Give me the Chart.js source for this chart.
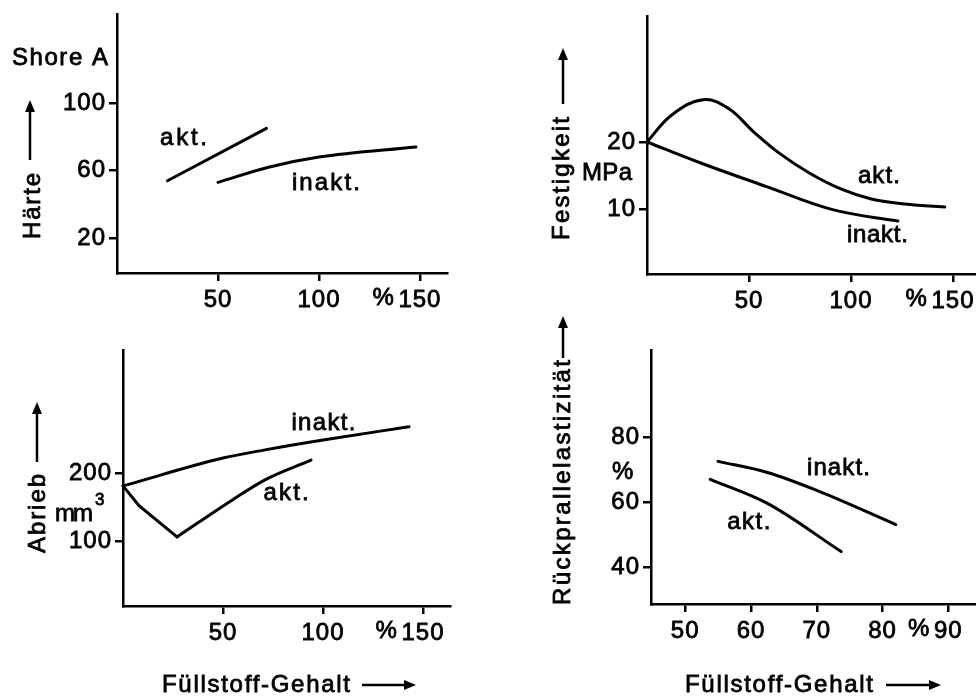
<!DOCTYPE html>
<html>
<head>
<meta charset="utf-8">
<script src="https://cdn.jsdelivr.net/npm/chart.js@4.4.1/dist/chart.umd.min.js"></script>
<style>
  body { margin: 0; background: #fff; }
  canvas { position: absolute; left: 0; top: 0; }
</style>
</head>
<body>
<canvas id="haerte" width="976" height="698"></canvas>
<canvas id="festigkeit" width="976" height="698"></canvas>
<canvas id="abrieb" width="976" height="698"></canvas>
<canvas id="rueckprall" width="976" height="698"></canvas>
<script>
// Härte, Shore A
const haerteAktX = [25, 74];
const haerteAktY = [54, 85];
const haerteInaktX = [50, 75, 100, 148];
const haerteInaktY = [53, 62, 68, 74];
const haerteXTicks = [50, 100, 150];
const haerteYTicks = [20, 60, 100];

// Festigkeit, MPa
const festAktX = [0, 12, 27.5, 40, 52, 65, 80, 95, 110, 125, 146];
const festAktY = [20, 24, 26.3, 25, 21.6, 18.3, 15.3, 13, 11.5, 10.8, 10.3];
const festInaktX = [0, 26, 59, 91, 123];
const festInaktY = [20, 16.9, 13.3, 9.9, 8.2];
const festXTicks = [50, 100, 150];
const festYTicks = [10, 20];

// Abrieb, mm3
const abriebAktX = [0, 8, 27, 54.5, 71, 94];
const abriebAktY = [181, 152, 106, 160, 190, 219];
const abriebInaktX = [0, 50, 71, 100, 143];
const abriebInaktY = [181, 222, 234, 248.5, 268];
const abriebXTicks = [50, 100, 150];
const abriebYTicks = [100, 200];

// Rückprallelastizität, %
const rueckAktX = [53.8, 62.5, 73.7];
const rueckAktY = [67.1, 59.7, 44.9];
const rueckInaktX = [55, 62.5, 70, 82];
const rueckInaktY = [72.6, 69.2, 63.7, 53.2];
const rueckXTicks = [50, 60, 70, 80, 90];
const rueckYTicks = [40, 60, 80];

const FONT = '"Liberation Sans", Arial, sans-serif';
const SIZE = 24;
const INK = 0.8;
Chart.defaults.font.family = FONT;
Chart.defaults.font.size = SIZE;
Chart.defaults.color = '#000';

function pts(xs, ys) {
  return xs.map((x, i) => ({ x: x, y: ys[i] }));
}

// draw text stretched to a given width (wide lettering of the original)
function fitText(ctx, text, x, cy, width) {
  ctx.letterSpacing = '0px';
  const w = ctx.measureText(text).width;
  const n = [...text].length;
  ctx.letterSpacing = (n > 1 ? (width - w) / (n - 1) : 0) + 'px';
  ctx.textAlign = 'left';
  ctx.textBaseline = 'middle';
  ctx.lineWidth = INK;
  ctx.fillText(text, x, cy);
  ctx.strokeText(text, x, cy);
  ctx.letterSpacing = '0px';
}

function vText(ctx, text, cx, yTop, yBottom) {
  ctx.save();
  ctx.translate(cx, (yTop + yBottom) / 2);
  ctx.rotate(-Math.PI / 2);
  fitText(ctx, text, -(yBottom - yTop) / 2, 0, yBottom - yTop);
  ctx.restore();
}

function arrow(ctx, x1, y1, x2, y2) {
  const a = Math.atan2(y2 - y1, x2 - x1);
  const L = 12, W = 5;
  ctx.lineWidth = 2.5;
  ctx.beginPath();
  ctx.moveTo(x1, y1);
  ctx.lineTo(x2 - L * 0.7 * Math.cos(a), y2 - L * 0.7 * Math.sin(a));
  ctx.stroke();
  ctx.beginPath();
  ctx.moveTo(x2, y2);
  ctx.lineTo(x2 - L * Math.cos(a) + W * Math.sin(a), y2 - L * Math.sin(a) - W * Math.cos(a));
  ctx.lineTo(x2 - L * Math.cos(a) - W * Math.sin(a), y2 - L * Math.sin(a) + W * Math.cos(a));
  ctx.closePath();
  ctx.fill();
}

function line(data, mode) {
  return {
    data: data,
    borderColor: '#000',
    borderWidth: 3,
    pointRadius: 0,
    fill: false,
    tension: mode === 'straight' ? 0 : 0.4,
    cubicInterpolationMode: mode === 'monotone' ? 'monotone' : 'default',
    borderCapStyle: 'round',
    clip: false
  };
}

function makePanel(id, box, xr, yr, xTicks, yTicks, datasets, labels, decorate) {
  const axisStyle = { color: '#000', width: 2.5 };
  const tickFont = { padding: 0, textStrokeColor: '#000', textStrokeWidth: INK };
  const deco = {
    id: 'deco',
    beforeDraw(chart) { chart.ctx.letterSpacing = '1px'; },
    afterDraw(chart) {
      const ctx = chart.ctx;
      ctx.save();
      ctx.fillStyle = '#000';
      ctx.strokeStyle = '#000';
      ctx.font = SIZE + 'px ' + FONT;
      // curve labels placed in data coordinates
      labels.forEach(l => {
        const px = chart.scales.x.getPixelForValue(l.x);
        const py = chart.scales.y.getPixelForValue(l.y);
        fitText(ctx, l.text, px, py, l.w);
      });
      // "%" in front of the last x tick label
      const last = xTicks[xTicks.length - 1];
      ctx.letterSpacing = '1px';
      const lw = ctx.measureText(String(last)).width;
      ctx.letterSpacing = '0px';
      const lx = chart.scales.x.getPixelForValue(last);
      fitText(ctx, '%', lx - lw / 2 - 26, box.b + 25, 18);
      decorate(ctx, chart);
      ctx.restore();
    }
  };
  return new Chart(document.getElementById(id), {
    type: 'line',
    data: { datasets: datasets },
    options: {
      responsive: false,
      animation: false,
      devicePixelRatio: 1,
      events: [],
      layout: { padding: { left: 0, top: box.t, right: 976 - box.r, bottom: 0 } },
      plugins: { legend: { display: false }, tooltip: { enabled: false } },
      scales: {
        x: {
          type: 'linear', min: xr[0], max: xr[1],
          afterBuildTicks: s => { s.ticks = xTicks.map(v => ({ value: v })); },
          afterFit: s => {
            s.height = 698 - box.b;
            s.paddingLeft = s.paddingRight = 0;
          },
          grid: { drawOnChartArea: false, tickLength: 8, lineWidth: 2.5, color: '#000' },
          border: axisStyle,
          ticks: Object.assign({}, tickFont, { padding: 5, maxRotation: 0, autoSkip: false, callback: v => String(v) })
        },
        y: {
          type: 'linear', min: yr[0], max: yr[1],
          afterBuildTicks: s => { s.ticks = yTicks.map(v => ({ value: v })); },
          afterFit: s => {
            s.width = box.l;
            s.paddingTop = s.paddingBottom = 0;
          },
          grid: { drawOnChartArea: false, tickLength: 8, lineWidth: 2.5, color: '#000' },
          border: axisStyle,
          ticks: Object.assign({}, tickFont, { padding: 3, autoSkip: false, callback: v => String(v) })
        }
      }
    },
    plugins: [deco]
  });
}

// top left: Härte
makePanel('haerte', { l: 117, t: 14, r: 447, b: 273 }, [0, 163.4], [-0.7, 152.8],
  haerteXTicks, haerteYTicks,
  [line(pts(haerteAktX, haerteAktY), 'straight'), line(pts(haerteInaktX, haerteInaktY), 'monotone')],
  [{ text: 'akt.', x: 21.3, y: 79.3, w: 47 }, { text: 'inakt.', x: 86.6, y: 52.6, w: 68 }],
  (ctx) => {
    fitText(ctx, 'Shore A', 12, 58, 96);
    vText(ctx, 'Härte', 33, 173, 239);
    arrow(ctx, 30, 160, 30, 100);
  });

// top right: Festigkeit
makePanel('festigkeit', { l: 647, t: 16, r: 976, b: 274 }, [0, 161.3], [0.3, 38.8],
  festXTicks, festYTicks,
  [line(pts(festAktX, festAktY), 'smooth'), line(pts(festInaktX, festInaktY), 'smooth')],
  [{ text: 'akt.', x: 103.4, y: 14.8, w: 42 }, { text: 'inakt.', x: 98, y: 6.1, w: 61 }],
  (ctx) => {
    vText(ctx, 'Festigkeit', 562, 117, 240);
    arrow(ctx, 563, 104, 563, 48);
    fitText(ctx, 'MPa', 582, 173, 50);
  });

// bottom left: Abrieb
const abriebAkt = pts(abriebAktX, abriebAktY);
makePanel('abrieb', { l: 123, t: 350, r: 450, b: 606 }, [0, 163.5], [4.4, 380.9],
  abriebXTicks, abriebYTicks,
  [line(abriebAkt.slice(0, 3), 'straight'), line(abriebAkt.slice(2), 'monotone'),
   line(pts(abriebInaktX, abriebInaktY), 'monotone')],
  [{ text: 'inakt.', x: 84.2, y: 273.5, w: 64 }, { text: 'akt.', x: 70.3, y: 170.6, w: 45 }],
  (ctx) => {
    vText(ctx, 'Abrieb', 38, 474, 553);
    arrow(ctx, 37, 462, 37, 402);
    fitText(ctx, 'mm', 55, 514, 38);
    ctx.font = '17px ' + FONT;
    fitText(ctx, '3', 95, 500, 10);
    ctx.font = SIZE + 'px ' + FONT;
    fitText(ctx, 'Füllstoff-Gehalt', 162, 685, 188);
    arrow(ctx, 362, 685, 416, 685);
  });

// bottom right: Rückprallelastizität
makePanel('rueckprall', { l: 651, t: 350, r: 976, b: 604 }, [44.8, 94.2], [28.8, 106.8],
  rueckXTicks, rueckYTicks,
  [line(pts(rueckAktX, rueckAktY), 'monotone'), line(pts(rueckInaktX, rueckInaktY), 'monotone')],
  [{ text: 'inakt.', x: 68.5, y: 70.5, w: 63 }, { text: 'akt.', x: 56.4, y: 53.8, w: 43 }],
  (ctx) => {
    vText(ctx, 'Rückprallelastizität', 563, 360, 605);
    arrow(ctx, 563, 358, 563, 316);
    fitText(ctx, '%', 612, 472, 23);
    fitText(ctx, 'Füllstoff-Gehalt', 685, 685, 188);
    arrow(ctx, 886, 685, 941, 685);
  });
</script>
</body>
</html>
